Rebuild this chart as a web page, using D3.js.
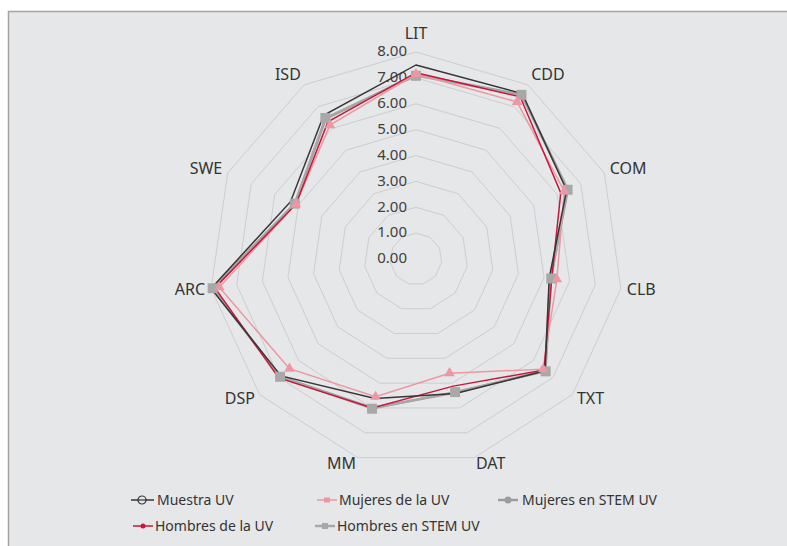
<!DOCTYPE html>
<html lang="es">
<head>
<meta charset="UTF-8">
<title>Radar UV</title>
<script src="https://d3js.org/d3.v7.min.js"></script>
<style>
  body { margin: 0; background: #fff; }
  text { font-family: "Noto Sans", "Open Sans", sans-serif; }
</style>
</head>
<body>
<div id="chart"></div>
<script>
// categories (clockwise from top)
var axes = ["LIT", "CDD", "COM", "CLB", "TXT", "DAT", "MM", "DSP", "ARC", "SWE", "ISD"];
var ticks = [0, 1, 2, 3, 4, 5, 6, 7, 8];

// series values
var muestraUV     = [7.50, 7.60, 6.40, 5.20, 6.60, 5.42, 5.62, 6.90, 8.00, 5.33, 6.60];
var mujeresUV     = [7.15, 7.22, 6.30, 5.50, 6.50, 4.60, 5.55, 6.47, 7.68, 5.10, 6.15];
var mujeresSTEM   = [7.12, 7.55, 6.45, 5.25, 6.60, 5.38, 6.00, 6.95, 7.95, 5.15, 6.45];
var hombresUV     = [7.20, 7.45, 6.15, 5.30, 6.55, 5.12, 6.00, 7.02, 7.85, 5.10, 6.30];
var hombresSTEM   = [7.08, 7.54, 6.44, 5.28, 6.63, 5.36, 6.03, 6.95, 7.94, 5.15, 6.48];

var series = [
    {name: "Muestra UV", values: muestraUV, color: "#363636", width: 1.5, marker: "none", legend: "ocircle"},
    {name: "Mujeres de la UV", values: mujeresUV, color: "#ec97a1", width: 1.5, marker: "triangle", legend: "square"},
    {name: "Mujeres en STEM UV", values: mujeresSTEM, color: "#9c9c9c", width: 2.5, marker: "none", legend: "circle"},
    {name: "Hombres de la UV", values: hombresUV, color: "#c8173a", width: 1.5, marker: "none", legend: "dot"},
    {name: "Hombres en STEM UV", values: hombresSTEM, color: "#a8a8a8", width: 2, marker: "square", legend: "line"}
];

var width = 787, height = 546;
var cx = 416, cy = 259, R = 207;

var svg = d3.select("#chart").append("svg")
    .attr("width", width)
    .attr("height", height);

// chart area
svg.append("rect")
    .attr("x", 8.5).attr("y", 11.5)
    .attr("width", width).attr("height", height)
    .attr("fill", "#e6e7e9")
    .attr("stroke", "#a3a3a3")
    .attr("stroke-width", 1.5);

var r = d3.scaleLinear().domain([0, 8]).range([0, R]);
var angle = d3.scaleLinear().domain([0, axes.length]).range([0, 2 * Math.PI]);

function px(i, v) { return cx + Math.sin(angle(i)) * r(v); }
function py(i, v) { return cy - Math.cos(angle(i)) * r(v); }

var g = svg.append("g");

// grid polygons
g.selectAll("polygon.grid")
    .data(ticks)
    .enter().append("polygon")
    .attr("class", "grid")
    .attr("points", t => axes.map((a, i) => px(i, t) + "," + py(i, t)).join(" "))
    .attr("fill", "none")
    .attr("stroke", "#cdcdcf")
    .attr("stroke-width", 1);

// tick labels
g.selectAll("text.tick")
    .data(ticks)
    .enter().append("text")
    .attr("class", "tick")
    .attr("x", cx - 9)
    .attr("y", t => cy - r(t) - 1)
    .attr("dy", "0.35em")
    .attr("text-anchor", "end")
    .attr("font-size", 15)
    .attr("fill", "#404040")
    .text(t => d3.format(".2f")(t));

// axis labels, Excel style: start/end anchored beside the outer ring
var labelR = R + 6;
g.selectAll("text.axis")
    .data(axes)
    .enter().append("text")
    .attr("class", "axis")
    .attr("x", (a, i) => cx + Math.sin(angle(i)) * labelR)
    .attr("y", (a, i) => {
        var c = Math.cos(angle(i));
        if (i === 0) return cy - R - 19;
        return cy - c * labelR - Math.max(c, 0) * 6;
    })
    .attr("dy", "0.35em")
    .attr("text-anchor", (a, i) => {
        var s = Math.sin(angle(i));
        return s > 0.1 ? "start" : (s < -0.1 ? "end" : "middle");
    })
    .attr("font-size", 16)
    .attr("fill", "#333")
    .text(a => a);

var line = d3.line()
    .x((v, i) => px(i, v))
    .y((v, i) => py(i, v))
    .curve(d3.curveLinearClosed);

// draw order: grays first, then pink, red, black
var order = [2, 4, 1, 3, 0];
order.forEach(function(k) {
    var s = series[k];
    g.append("path")
        .datum(s.values)
        .attr("d", line)
        .attr("fill", "none")
        .attr("stroke", s.color)
        .attr("stroke-width", s.width)
        .attr("stroke-linejoin", "miter");
});

// markers
var sym = {
    triangle: d3.symbol().type(d3.symbolTriangle).size(48),
    square: d3.symbol().type(d3.symbolSquare).size(100)
};
order.forEach(function(k) {
    var s = series[k];
    if (s.marker === "none") return;
    g.selectAll(null)
        .data(s.values)
        .enter().append("path")
        .attr("d", sym[s.marker])
        .attr("transform", (v, i) => "translate(" + px(i, v) + "," + py(i, v) + ")")
        .attr("fill", s.color);
});

// legend
var legendPos = [
    {x: 131, y: 500}, {x: 317, y: 500}, {x: 498, y: 500},
    {x: 133, y: 526}, {x: 315, y: 526}
];
var lg = svg.append("g").selectAll("g")
    .data(series)
    .enter().append("g")
    .attr("transform", (d, i) => "translate(" + legendPos[i].x + "," + legendPos[i].y + ")");

lg.append("line")
    .attr("x1", 0).attr("x2", (d, i) => i === 0 ? 23 : 20)
    .attr("y1", 0).attr("y2", 0)
    .attr("stroke", d => d.color)
    .attr("stroke-width", d => d.name.indexOf("STEM") >= 0 ? 2.5 : 1.5);

lg.each(function(d, i) {
    var el = d3.select(this);
    var mx = i === 0 ? 11 : 10;
    if (d.legend === "ocircle") {
        el.append("circle").attr("cx", mx).attr("cy", 0).attr("r", 4)
            .attr("fill", "#e6e7e9").attr("stroke", d.color).attr("stroke-width", 1.2);
        el.append("line").attr("x1", 6).attr("x2", 16).attr("y1", 0).attr("y2", 0)
            .attr("stroke", d.color).attr("stroke-width", 1.2);
    } else if (d.legend === "square") {
        el.append("rect").attr("x", mx - 3).attr("y", -2.5).attr("width", 6).attr("height", 5).attr("fill", d.color);
    } else if (d.legend === "circle") {
        el.append("circle").attr("cx", mx).attr("cy", 0).attr("r", 3.5).attr("fill", d.color);
    } else if (d.legend === "dot") {
        el.append("circle").attr("cx", mx).attr("cy", 0).attr("r", 2.5).attr("fill", d.color);
    } else {
        el.append("rect").attr("x", mx - 3).attr("y", -3).attr("width", 6).attr("height", 6).attr("fill", d.color);
    }
});

lg.append("text")
    .attr("x", (d, i) => i === 0 ? 26 : (i === 2 ? 24 : 22))
    .attr("y", 0)
    .attr("dy", "0.35em")
    .attr("font-size", 14)
    .attr("fill", "#333")
    .text(d => d.name);
</script>
</body>
</html>
